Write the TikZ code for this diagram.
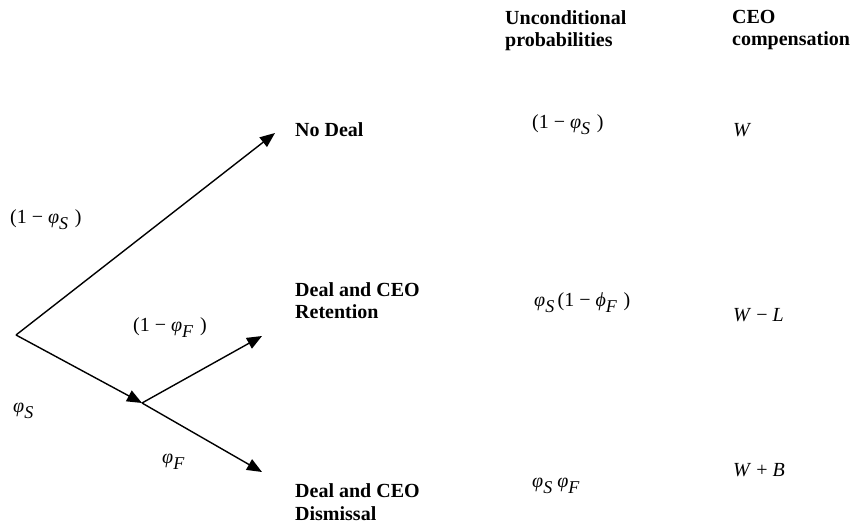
\documentclass[tikz,border=0pt]{standalone}
\usepackage{fontspec}
\setmainfont{Liberation Serif}
\usetikzlibrary{arrows.meta}
\newcommand\vphi{\textit{φ}}
\newcommand\sphi{\textit{ϕ}}
\newcommand\sbs[1]{\raisebox{-6pt}{\fontsize{18}{18}\selectfont\textit{#1}}}
\begin{document}
\begin{tikzpicture}[x=1pt,y=-1pt,
  lab/.style={inner sep=0pt, anchor=base west, font=\fontsize{20}{23}\selectfont},
  head/.style={inner sep=0pt, anchor=base west, align=left, font=\fontsize{20}{22.5}\selectfont\bfseries},
  arr/.style={line width=1.4pt, -{Triangle[length=15pt,width=12pt]}}]
\useasboundingbox (0,0) rectangle (854,529);
\fill[white] (0,0) rectangle (854,529);
% tree points
\coordinate (root) at (16,335);
\coordinate (mid) at (142,403);
\coordinate (tipND) at (275,133);
\coordinate (tipR) at (262,336);
\coordinate (tipD) at (262,472);
\draw[arr] (root) -- (tipND);
\draw[arr] (root) -- (mid);
\draw[arr] (mid) -- (tipR);
\draw[arr] (mid) -- (tipD);
% branch labels
\node[lab] (l1) at (10,224) {(1 − \vphi\sbs{S}\,\,)};
\node[lab] (l2) at (133,331) {(1 − \vphi\sbs{F}\,\,)};
\node[lab] (l3) at (13,412) {\vphi\sbs{S}};
\node[lab] (l4) at (162,463) {\vphi\sbs{F}};
% outcomes
\node[head] (nd) at (295,137) {No Deal};
\node[head] (ret) at (295,319) {Deal and CEO\\Retention};
\node[head] (dis) at (295,520) {Deal and CEO\\Dismissal};
% column heads
\node[head] (h1) at (505,47) {Unconditional\\probabilities};
\node[head] (h2) at (732,46) {CEO\\compensation};
% probabilities
\node[lab] (p1) at (532,129) {(1 − \vphi\sbs{S}\,\,)};
\node[lab] (p2) at (534,306) {\vphi\sbs{S}\,(1 − \sphi\sbs{F}\,\,)};
\node[lab] (p3) at (532,487) {\vphi\sbs{S} \vphi\sbs{F}};
% compensation
\node[lab] (c1) at (733,137) {\textit{W}};
\node[lab] (c2) at (733,322) {\textit{W} − \textit{L}};
\node[lab] (c3) at (733,476) {\textit{W} + \textit{B}};
\end{tikzpicture}
\end{document}
